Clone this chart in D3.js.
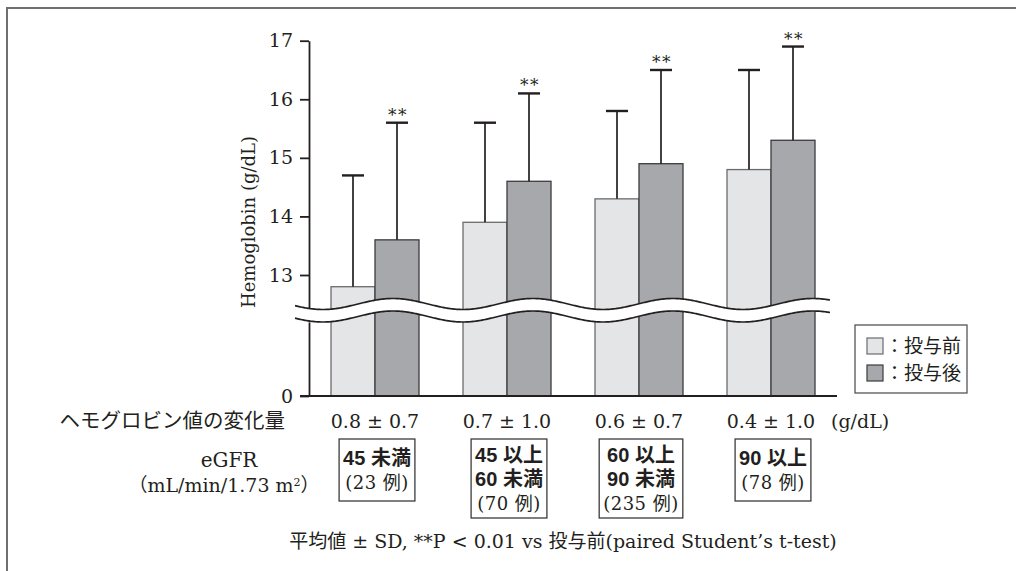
<!DOCTYPE html>
<html>
<head>
<meta charset="utf-8">
<script src="https://cdn.jsdelivr.net/npm/d3@7"></script>
<style>
  html, body { margin: 0; padding: 0; background: #fff; }
  svg { display: block; }
  .serif { font-family: "DejaVu Serif", "Noto Sans CJK JP", serif; fill: #231f20; }
  .sans { font-family: "Liberation Sans", "Noto Sans CJK JP", sans-serif; fill: #231f20; }
</style>
</head>
<body>
<svg id="chart" width="1016" height="571"></svg>
<script>
// eGFR groups and hemoglobin (g/dL) before / after administration
const groups = ["g1", "g2", "g3", "g4"];
const beforeMean = [12.8, 13.9, 14.3, 14.8];
const beforeSD   = [1.9, 1.7, 1.5, 1.7];
const afterMean  = [13.6, 14.6, 14.9, 15.3];
const afterSD    = [2.0, 1.5, 1.6, 1.6];
const significant = [true, true, true, true];
const changeLabels = ["0.8 ± 0.7", "0.7 ± 1.0", "0.6 ± 0.7", "0.4 ± 1.0"];
const egfrLabels = [["45 未満"], ["45 以上", "60 未満"], ["60 以上", "90 未満"], ["90 以上"]];
const caseLabels = ["(23 例)", "(70 例)", "(235 例)", "(78 例)"];
const upperTicks = [13, 14, 15, 16, 17];
const lowerTicks = [0];
const seriesNames = ["投与前", "投与後"];

const svg = d3.select("#chart");
const ink = "#231f20";
const colors = { before: "#e4e5e7", after: "#a7a8ab" };
const strokes = { before: "#6a6b6e", after: "#3b3b3d" };

// outer frame (right and bottom edges fall outside the page)
svg.append("rect")
  .attr("x", 7).attr("y", 8).attr("width", 1100).attr("height", 700)
  .attr("fill", "none").attr("stroke", "#6f6f6f").attr("stroke-width", 2);

// scales
const x0 = d3.scaleBand().domain(groups).range([309, 837]).paddingInner(1 / 3).paddingOuter(1 / 6);
const x1 = d3.scaleBand().domain(["before", "after"]).range([0, x0.bandwidth()]);
const yUp = d3.scaleLinear().domain([13, 17]).range([275, 40.7]);
const yLow = d3.scaleLinear().domain([0, 1]).range([396, 322]);
const base = yLow(0);

// axes
const axUp = svg.append("g").attr("transform", "translate(309,0)")
  .call(d3.axisLeft(d3.scaleLinear().domain([12.2, 17]).range([yUp(12.2), yUp(17)]))
    .tickValues(upperTicks).tickSize(9).tickSizeOuter(0).tickPadding(7).tickFormat(d3.format("d")));
const axLow = svg.append("g").attr("transform", "translate(309,0)")
  .call(d3.axisLeft(yLow).tickValues(lowerTicks).tickSize(9).tickSizeOuter(0).tickPadding(7)
    .tickFormat(d3.format("d")));
[axUp, axLow].forEach(g => {
  g.attr("font-family", null).attr("font-size", null);
  g.selectAll("path, line").attr("stroke", ink).attr("stroke-width", 1.8);
  g.selectAll("text").attr("class", "serif").attr("font-size", 19).attr("fill", ink);
});

// bars
const rows = groups.map((g, i) => ({
  g,
  bars: [
    { key: "before", mean: beforeMean[i], sd: beforeSD[i], sig: false },
    { key: "after", mean: afterMean[i], sd: afterSD[i], sig: significant[i] }
  ]
}));

const gGroups = svg.append("g").selectAll("g").data(rows).join("g")
  .attr("transform", d => `translate(${x0(d.g)},0)`);

gGroups.selectAll("rect").data(d => d.bars).join("rect")
  .attr("x", d => x1(d.key))
  .attr("width", x1.bandwidth())
  .attr("y", d => yUp(d.mean))
  .attr("height", d => base - yUp(d.mean))
  .attr("fill", d => colors[d.key])
  .attr("stroke", d => strokes[d.key])
  .attr("stroke-width", 1.3);

// error bars (upper SD only)
const capW = 22;
const eb = gGroups.selectAll("g.err").data(d => d.bars).join("g").attr("class", "err");
eb.append("line")
  .attr("x1", d => x1(d.key) + x1.bandwidth() / 2)
  .attr("x2", d => x1(d.key) + x1.bandwidth() / 2)
  .attr("y1", d => yUp(d.mean))
  .attr("y2", d => yUp(d.mean + d.sd))
  .attr("stroke", ink).attr("stroke-width", 1.7);
eb.append("line")
  .attr("x1", d => x1(d.key) + x1.bandwidth() / 2 - capW / 2)
  .attr("x2", d => x1(d.key) + x1.bandwidth() / 2 + capW / 2)
  .attr("y1", d => yUp(d.mean + d.sd))
  .attr("y2", d => yUp(d.mean + d.sd))
  .attr("stroke", ink).attr("stroke-width", 2.4);
eb.filter(d => d.sig).append("text")
  .attr("class", "serif")
  .attr("x", d => x1(d.key) + x1.bandwidth() / 2 + 1)
  .attr("y", d => yUp(d.mean + d.sd) - 2)
  .attr("text-anchor", "middle")
  .attr("font-size", 17)
  .attr("letter-spacing", 1.5)
  .attr("fill", "#5e5e5e")
  .text("**");

// axis break: white band bounded by two waves
const waveX = d3.range(295, 830.5, 1);
const period = 140, amp = 5.5, phaseX = 393;
const wave = c => waveX.map(x => [x, c - amp * Math.cos(2 * Math.PI * (x - phaseX) / period)]);
const waveTop = wave(304), waveBottom = wave(316.5);
svg.append("path")
  .attr("d", d3.line()(waveTop.concat(waveBottom.slice().reverse())) + "Z")
  .attr("fill", "#fff");
[waveTop, waveBottom].forEach(pts => svg.append("path")
  .attr("d", d3.line()(pts)).attr("fill", "none").attr("stroke", ink).attr("stroke-width", 1.7));

// baseline across the groups
svg.append("line").attr("x1", 300).attr("x2", 837).attr("y1", base).attr("y2", base)
  .attr("stroke", ink).attr("stroke-width", 1.8);

// y-axis title
svg.append("text").attr("class", "serif")
  .attr("transform", `translate(255,222) rotate(-90)`)
  .attr("text-anchor", "middle").attr("font-size", 18)
  .text("Hemoglobin (g/dL)");

// legend
const lg = svg.append("g").attr("transform", "translate(855,325)");
lg.append("rect").attr("width", 112).attr("height", 68)
  .attr("fill", "#fff").attr("stroke", "#555").attr("stroke-width", 1.3);
["before", "after"].forEach((k, i) => {
  lg.append("rect").attr("x", 12).attr("y", 13 + i * 27).attr("width", 16).attr("height", 16)
    .attr("fill", colors[k]).attr("stroke", strokes[k]).attr("stroke-width", 1.2);
  lg.append("text").attr("class", "serif").attr("x", 30).attr("y", 28 + i * 27)
    .attr("font-size", 19).text("：" + seriesNames[i]);
});

// change-in-hemoglobin row
svg.append("text").attr("class", "serif").attr("x", 285).attr("y", 428)
  .attr("text-anchor", "end").attr("font-size", 20.5).text("ヘモグロビン値の変化量");
svg.append("g").selectAll("text").data(groups).join("text")
  .attr("class", "serif")
  .attr("x", d => x0(d) + x0.bandwidth() / 2)
  .attr("y", 428)
  .attr("text-anchor", "middle").attr("font-size", 19)
  .text((d, i) => changeLabels[i]);
svg.append("text").attr("class", "serif").attr("x", 831).attr("y", 428)
  .attr("font-size", 19).text("(g/dL)");

// eGFR row
svg.append("text").attr("class", "serif").attr("x", 229).attr("y", 467)
  .attr("text-anchor", "middle").attr("font-size", 20).text("eGFR");
svg.append("text").attr("class", "serif").attr("x", 224).attr("y", 492)
  .attr("text-anchor", "middle").attr("font-size", 19)
  .html("（mL/min/1.73 m<tspan baseline-shift=\"super\" font-size=\"11\">2</tspan>）");

const lineH = 24;
groups.forEach((g, i) => {
  const cx = x0(g) + x0.bandwidth() / 2 + 2;
  const lines = egfrLabels[i];
  const box = svg.append("g");
  const rect = box.append("rect").attr("fill", "#fff").attr("stroke", "#3b3b3d").attr("stroke-width", 1.3);
  const y0 = 465 - (lines.length > 1 ? 3 : 0);
  lines.forEach((t, j) => {
    box.append("text").attr("class", "sans").attr("x", cx).attr("y", y0 + j * lineH)
      .attr("text-anchor", "middle").attr("font-size", 20).attr("font-weight", "bold").text(t);
  });
  box.append("text").attr("class", "serif").attr("x", cx)
    .attr("y", y0 + lines.length * lineH)
    .attr("text-anchor", "middle").attr("font-size", 18).attr("letter-spacing", 0.5).text(caseLabels[i]);
  const bb = box.node().getBBox();
  rect.attr("x", bb.x - 4).attr("width", bb.width + 8)
    .attr("y", 439).attr("height", lines.length > 1 ? 79 : 62);
});

// footnote
svg.append("text").attr("class", "serif").attr("x", 563).attr("y", 548)
  .attr("text-anchor", "middle").attr("font-size", 19)
  .text("平均値 ± SD,  **P < 0.01 vs 投与前(paired Student’s t-test)");
</script>
</body>
</html>
